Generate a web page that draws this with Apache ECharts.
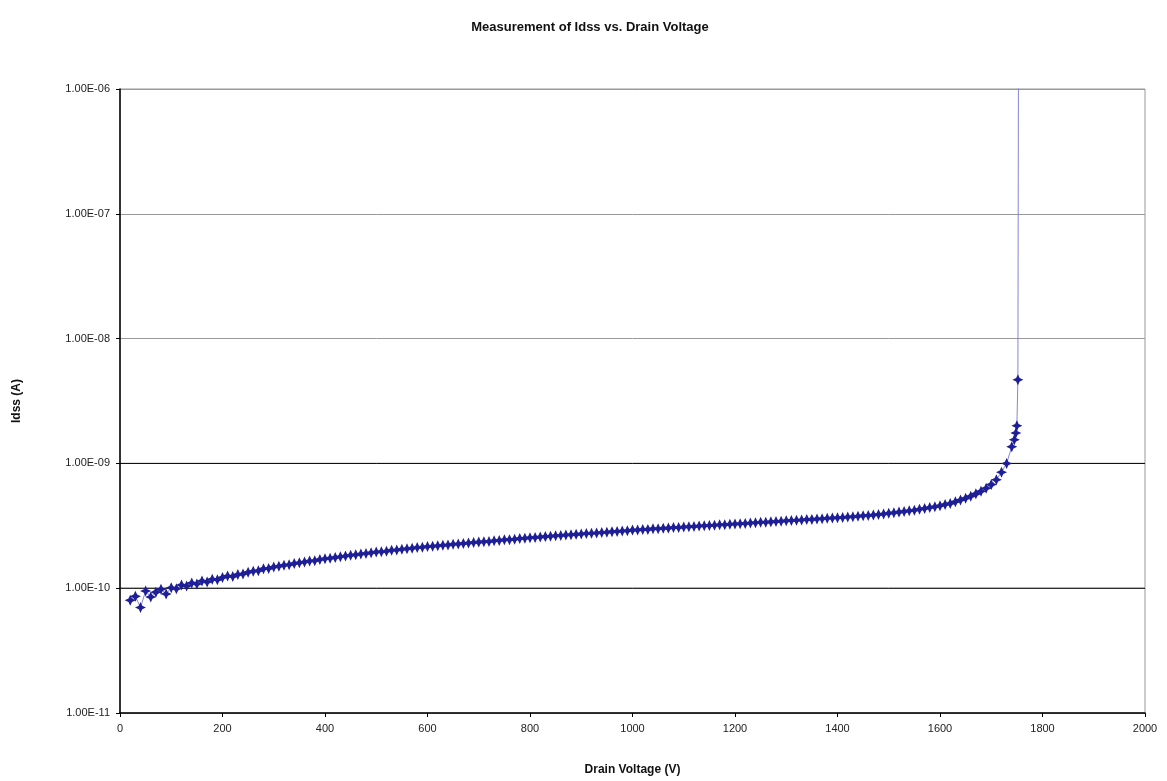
<!DOCTYPE html>
<html>
<head>
<meta charset="utf-8">
<script src="https://cdn.jsdelivr.net/npm/echarts@6/dist/echarts.min.js"></script>
<style>
html,body{margin:0;padding:0;background:#fff;}
#chart{width:1167px;height:781px;}
</style>
</head>
<body>
<div id="chart"></div>
<script>
// Drain voltage (V)
const voltage = [
  20,30,40,50,60,70,80,90,100,110,120,130,140,150,160,170,180,190,200,
  210,220,230,240,250,260,270,280,290,300,310,320,330,340,350,360,370,380,390,400,
  410,420,430,440,450,460,470,480,490,500,510,520,530,540,550,560,570,580,590,600,
  610,620,630,640,650,660,670,680,690,700,710,720,730,740,750,760,770,780,790,800,
  810,820,830,840,850,860,870,880,890,900,910,920,930,940,950,960,970,980,990,1000,
  1010,1020,1030,1040,1050,1060,1070,1080,1090,1100,1110,1120,1130,1140,1150,1160,1170,1180,1190,1200,
  1210,1220,1230,1240,1250,1260,1270,1280,1290,1300,1310,1320,1330,1340,1350,1360,1370,1380,1390,1400,
  1410,1420,1430,1440,1450,1460,1470,1480,1490,1500,1510,1520,1530,1540,1550,1560,1570,1580,1590,1600,
  1610,1620,1630,1640,1650,1660,1670,1680,1690,1700,1710,1720,1730,1740,1745,1748,1750,1752,1753
];
// Idss (A)
const idss = [
  0.80e-10,0.86e-10,0.70e-10,0.95e-10,0.85e-10,0.93e-10,0.98e-10,0.90e-10,1.01e-10,0.99e-10,1.06e-10,1.04e-10,1.10e-10,1.08e-10,1.14e-10,1.12e-10,1.18e-10,1.17e-10,1.22e-10,
  1.25e-10,1.24e-10,1.29e-10,1.30e-10,1.34e-10,1.37e-10,1.38e-10,1.43e-10,1.44e-10,1.48e-10,1.50e-10,1.53e-10,1.54e-10,1.58e-10,1.60e-10,1.62e-10,1.65e-10,1.66e-10,1.70e-10,1.72e-10,
  1.74e-10,1.76e-10,1.79e-10,1.81e-10,1.84e-10,1.85e-10,1.88e-10,1.90e-10,1.92e-10,1.95e-10,1.96e-10,1.98e-10,2.01e-10,2.02e-10,2.05e-10,2.07e-10,2.09e-10,2.12e-10,2.13e-10,2.16e-10,
  2.17e-10,2.19e-10,2.21e-10,2.22e-10,2.25e-10,2.26e-10,2.28e-10,2.30e-10,2.32e-10,2.34e-10,2.36e-10,2.37e-10,2.40e-10,2.41e-10,2.44e-10,2.45e-10,2.47e-10,2.50e-10,2.51e-10,2.54e-10,
  2.55e-10,2.57e-10,2.59e-10,2.61e-10,2.63e-10,2.64e-10,2.67e-10,2.68e-10,2.70e-10,2.72e-10,2.74e-10,2.76e-10,2.77e-10,2.80e-10,2.81e-10,2.84e-10,2.85e-10,2.87e-10,2.89e-10,2.92e-10,
  2.93e-10,2.95e-10,2.96e-10,2.99e-10,3.00e-10,3.02e-10,3.03e-10,3.06e-10,3.07e-10,3.09e-10,3.11e-10,3.12e-10,3.15e-10,3.16e-10,3.18e-10,3.19e-10,3.22e-10,3.23e-10,3.25e-10,3.27e-10,
  3.29e-10,3.30e-10,3.33e-10,3.34e-10,3.37e-10,3.38e-10,3.40e-10,3.43e-10,3.44e-10,3.47e-10,3.48e-10,3.51e-10,3.52e-10,3.55e-10,3.56e-10,3.59e-10,3.60e-10,3.63e-10,3.65e-10,3.67e-10,
  3.69e-10,3.72e-10,3.74e-10,3.77e-10,3.80e-10,3.83e-10,3.86e-10,3.90e-10,3.93e-10,3.98e-10,4.02e-10,4.07e-10,4.12e-10,4.17e-10,4.22e-10,4.29e-10,4.36e-10,4.44e-10,4.50e-10,4.57e-10,
  4.68e-10,4.78e-10,4.92e-10,5.08e-10,5.25e-10,5.46e-10,5.70e-10,5.98e-10,6.32e-10,6.76e-10,7.41e-10,8.51e-10,10.0e-10,13.6e-10,15.5e-10,17.5e-10,20.0e-10,46.8e-10,1.1e-6
];
const xTicks = [0,200,400,600,800,1000,1200,1400,1600,1800,2000];
const yTicks = [1e-11,1e-10,1e-9,1e-8,1e-7,1e-6];
const darkGridValues = [1e-10, 1e-9];

const points = voltage.map((v, i) => [v, idss[i]]);
const xMin = xTicks[0], xMax = xTicks[xTicks.length - 1];

function sci(v) {
  const s = Number(v).toExponential(2).toUpperCase();
  return s.replace(/E([+-])(\d)$/, 'E$10$2');
}

const gridSeries = darkGridValues.map(v => ({
  type: 'line',
  data: [[xMin, v], [xMax, v]],
  symbol: 'none',
  silent: true,
  z: 1,
  lineStyle: {color: '#000', width: 1}
}));

const chart = echarts.init(document.getElementById('chart'), null, {renderer: 'canvas'});
chart.setOption({
  animation: false,
  backgroundColor: '#ffffff',
  title: {
    text: 'Measurement of Idss vs. Drain Voltage',
    left: 585, top: 16, textAlign: 'center',
    textStyle: {fontFamily: 'Arial, Liberation Sans', fontSize: 13, fontWeight: 'bold', color: '#111'}
  },
  grid: {
    left: 120, right: 22, top: 89, bottom: 67,
    show: true, borderColor: '#999', borderWidth: 1, backgroundColor: 'transparent'
  },
  xAxis: {
    type: 'value', min: xMin, max: xMax, interval: 200,
    name: 'Drain Voltage (V)', nameLocation: 'middle', nameGap: 51,
    nameTextStyle: {fontFamily: 'Arial, Liberation Sans', fontSize: 12, fontWeight: 'bold', color: '#111'},
    axisLine: {show: true, lineStyle: {color: '#000', width: 1.5}},
    axisTick: {show: true, length: 4, lineStyle: {color: '#000'}},
    axisLabel: {fontFamily: 'Arial, Liberation Sans', fontSize: 11, color: '#222', margin: 10,
      formatter: v => String(v)},
    splitLine: {show: false}
  },
  yAxis: {
    type: 'log', logBase: 10, min: yTicks[0], max: yTicks[yTicks.length - 1],
    name: 'Idss (A)', nameLocation: 'middle', nameGap: 97, nameRotate: 90,
    nameTextStyle: {fontFamily: 'Arial, Liberation Sans', fontSize: 12, fontWeight: 'bold', color: '#111'},
    axisLine: {show: true, lineStyle: {color: '#000', width: 1.5}},
    axisTick: {show: true, length: 4, lineStyle: {color: '#000'}},
    axisLabel: {fontFamily: 'Arial, Liberation Sans', fontSize: 11, color: '#222', margin: 10, formatter: sci},
    splitLine: {show: true, lineStyle: {color: '#999', width: 1}}
  },
  series: gridSeries.concat([{
    type: 'line',
    data: points,
    clip: true,
    symbol: 'path://M5,0 L6.6,3.4 L10,5 L6.6,6.6 L5,10 L3.4,6.6 L0,5 L3.4,3.4 Z',
    symbolSize: 11,
    showAllSymbol: true,
    itemStyle: {color: '#1e1e96'},
    lineStyle: {color: '#8585d6', width: 1},
    z: 3
  }])
});
</script>
</body>
</html>
